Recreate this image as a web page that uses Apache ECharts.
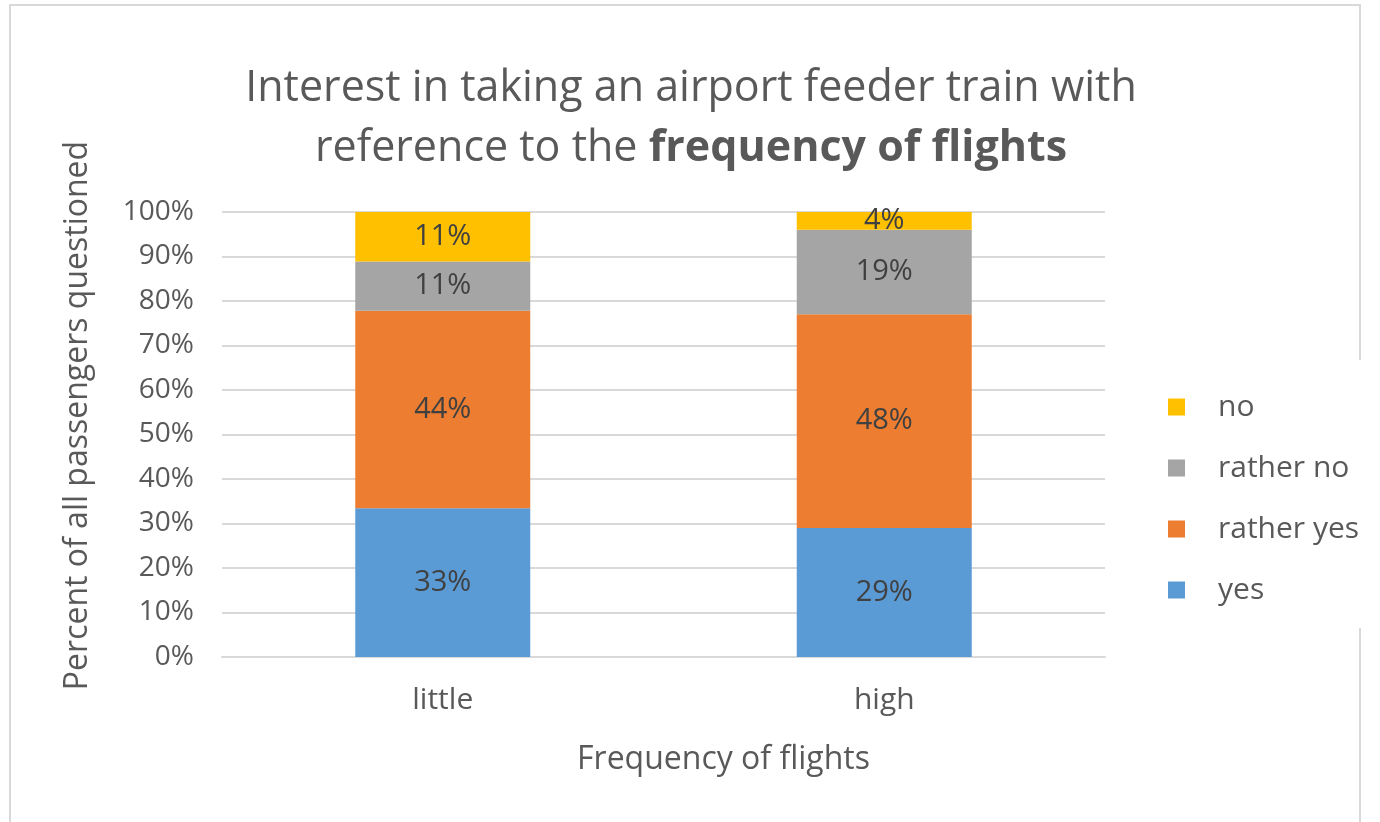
<!DOCTYPE html>
<html>
<head>
<meta charset="utf-8">
<script src="https://cdn.jsdelivr.net/npm/echarts@6/dist/echarts.min.js"></script>
<style>
html,body{margin:0;padding:0;background:#fff;}
#chart{width:1380px;height:822px;}
</style>
</head>
<body>
<div id="chart"></div>
<script>
// data (percent of passengers)
const categories = ['little', 'high'];
const yesVals = [33.4, 29];
const ratherYesVals = [44.4, 48];
const ratherNoVals = [11.1, 19];
const noVals = [11.1, 4];
const legendOrder = ['no', 'rather no', 'rather yes', 'yes'];

const font = 'Open Sans';
const txt = '#595959';

function seg(name, vals, color) {
	return {
		name: name,
		type: 'bar',
		stack: 'total',
		barWidth: 175,
		data: vals,
		itemStyle: { color: color },
		label: {
			show: true,
			position: 'inside',
			fontFamily: font,
			fontSize: 29,
			color: '#404040',
			formatter: p => Math.round(p.value) + '%'
		}
	};
}

let myChart = echarts.init(document.getElementById('chart'));
myChart.setOption({
	animation: false,
	textStyle: { fontFamily: font },
	graphic: [
		{ type: 'rect', shape: { x: 10, y: 5, width: 1350, height: 830 }, style: { fill: 'none', stroke: '#d9d9d9', lineWidth: 2 }, z: -10 },
		{ type: 'rect', shape: { x: 1352, y: 360, width: 20, height: 268 }, style: { fill: '#fff' }, z: -9 }
	],
	title: {
		text: 'Interest in taking an airport feeder train with\n{n|reference to the }{b|frequency of flights}',
		left: 686,
		textAlign: 'center',
		top: 54,
		textStyle: {
			fontFamily: font, fontSize: 43, fontWeight: 'normal', color: txt, lineHeight: 60,
			rich: {
				n: { fontFamily: font, fontSize: 43, color: txt, lineHeight: 60 },
				b: { fontFamily: font, fontSize: 43, color: txt, fontWeight: 'bold', lineHeight: 60 }
			}
		}
	},
	legend: {
		orient: 'vertical',
		left: 1163,
		top: 386,
		data: legendOrder,
		itemWidth: 17,
		itemHeight: 17,
		itemGap: 29,
		icon: 'rect',
		textStyle: { fontFamily: font, fontSize: 30, color: txt, padding: [0, 0, 0, 28], lineHeight: 32 }
	},
	grid: { left: 222, right: 275, top: 212, bottom: 165 },
	xAxis: {
		type: 'category',
		data: categories,
		name: 'Frequency of flights',
		nameLocation: 'middle',
		nameGap: 87,
		nameTextStyle: { fontFamily: font, fontSize: 32, color: txt, padding: [0, 0, 0, 120] },
		axisLine: { lineStyle: { color: '#d9d9d9', width: 2 } },
		axisTick: { show: false },
		axisLabel: { fontFamily: font, fontSize: 30, color: txt, margin: 28 }
	},
	yAxis: {
		type: 'value',
		min: 0,
		max: 100,
		interval: 10,
		name: 'Percent of all passengers questioned',
		nameLocation: 'middle',
		nameGap: 128,
		nameTextStyle: { fontFamily: font, fontSize: 32, color: txt, padding: [0, 0, 0, 38] },
		axisLine: { show: false },
		axisTick: { show: false },
		axisLabel: { fontFamily: font, fontSize: 28, color: txt, margin: 28, formatter: '{value}%' },
		splitLine: { lineStyle: { color: '#d9d9d9', width: 2 } }
	},
	series: [
		seg('yes', yesVals, '#5B9BD5'),
		seg('rather yes', ratherYesVals, '#ED7D31'),
		seg('rather no', ratherNoVals, '#A5A5A5'),
		seg('no', noVals, '#FFC000')
	]
});
</script>
</body>
</html>
